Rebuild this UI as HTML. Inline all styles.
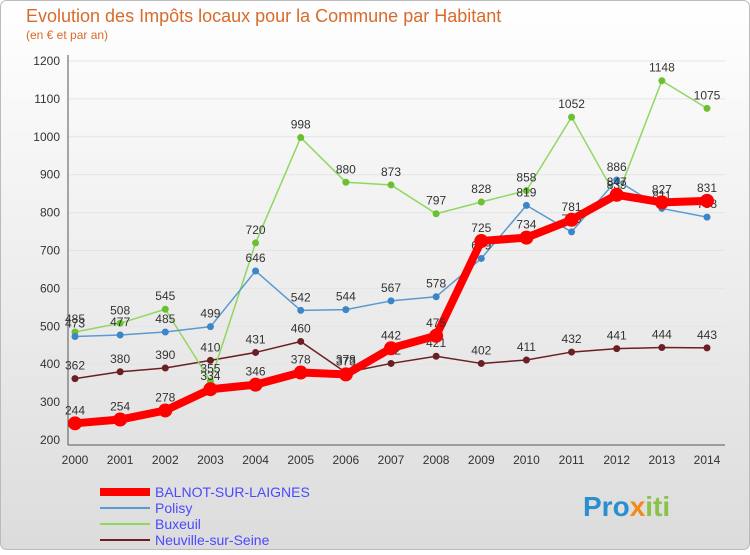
<!DOCTYPE html>
<html><head><meta charset="utf-8"><style>
body{margin:0;width:750px;height:550px;overflow:hidden;font-family:"Liberation Sans",sans-serif}
</style></head><body>
<svg width="750" height="550" xmlns="http://www.w3.org/2000/svg" font-family="Liberation Sans, sans-serif">
<defs><linearGradient id="bg" x1="0" y1="0" x2="0" y2="1"><stop offset="0" stop-color="#ffffff"/><stop offset="1" stop-color="#dcdcdc"/></linearGradient></defs>
<rect x="0.5" y="0.5" width="749" height="549" rx="6" fill="url(#bg)" stroke="#bbb"/>
<text x="26" y="22" font-size="18" fill="#d86a2a">Evolution des Impôts locaux pour la Commune par Habitant</text>
<text x="26" y="39" font-size="12" fill="#d86a2a">(en € et par an)</text>
<g id="axes"></g><g id="plot"></g><g id="legend"></g>
<text x="583" y="516" font-size="28" font-weight="bold" fill="#2a8fd0">Pro<tspan fill="#f08a1a">x</tspan><tspan fill="#8bc34a">iti</tspan></text>
</svg>
<script>
const years=[2000,2001,2002,2003,2004,2005,2006,2007,2008,2009,2010,2011,2012,2013,2014];
const yTicks=[200,300,400,500,600,700,800,900,1000,1100,1200];
const seriesNames=["BALNOT-SUR-LAIGNES","Polisy","Buxeuil","Neuville-sur-Seine"];
const balnot=[244,254,278,334,346,378,373,442,475,725,734,781,847,827,831];
const polisy=[473,477,485,499,646,542,544,567,578,679,819,749,886,811,788];
const buxeuil=[485,508,545,355,720,998,880,873,797,828,858,1052,839,1148,1075];
const neuville=[362,380,390,410,431,460,378,402,421,402,411,432,441,444,443];
const NS="http://www.w3.org/2000/svg";
const x=i=>75+i*(707-75)/14, y=v=>440-(v-200)*(379/1000);
function mk(t,a,p){const e=document.createElementNS(NS,t);for(const k in a)e.setAttribute(k,a[k]);p.appendChild(e);return e;}
const ax=document.getElementById('axes'),pl=document.getElementById('plot'),lg=document.getElementById('legend');
yTicks.forEach(v=>{const l=mk('line',{x1:68,x2:725,y1:y(v),y2:y(v),stroke:'#e4e4e4'},ax);

const t=mk('text',{x:60,y:y(v)+4,'text-anchor':'end','font-size':12,fill:'#333'},ax);t.textContent=v;
});
const a1=mk('line',{x1:68,x2:68,y1:55,y2:445,stroke:'#555'},ax);
const a2=mk('line',{x1:68,x2:725,y1:445,y2:445,stroke:'#555'},ax);
years.forEach((yr,i)=>{const t=mk('text',{x:x(i),y:464,'text-anchor':'middle','font-size':12,fill:'#333'},ax);t.textContent=yr;
});
const defs=[[neuville,'#6b1f24',1.5,3.5,'#6b1f24'],[buxeuil,'#8fd860',1.5,3.5,'#6cc030'],[polisy,'#5a9ad0',1.5,3.5,'#3a86c8'],[balnot,'#ff0000',8,7,'#ff0000']];
const names=['neuville','buxeuil','polisy','balnot'];
defs.forEach(([d,c,w,r,mc],k)=>{const p=mk('polyline',{points:d.map((v,i)=>x(i)+','+y(v)).join(' '),fill:'none',stroke:c,'stroke-width':w,'stroke-linejoin':'round'},pl);

d.forEach((v,i)=>{const m=mk('circle',{cx:x(i),cy:y(v),r:r,fill:mc},pl);
const t=mk('text',{x:x(i),y:y(v)-9,'text-anchor':'middle','font-size':12,fill:'#333'},pl);t.textContent=v;
});});
const lc=['#ff0000','#5a9ad0','#8fd860','#6b1f24'],lw=[8,2,2,2];
seriesNames.forEach((n,i)=>{const yy=492+i*16;const l=mk('line',{x1:100,x2:150,y1:yy,y2:yy,stroke:lc[i],'stroke-width':lw[i]},lg);

const t=mk('text',{x:155,y:yy+5,'font-size':14,fill:'#4a4aff'},lg);t.textContent=n;
});
</script></body></html>
